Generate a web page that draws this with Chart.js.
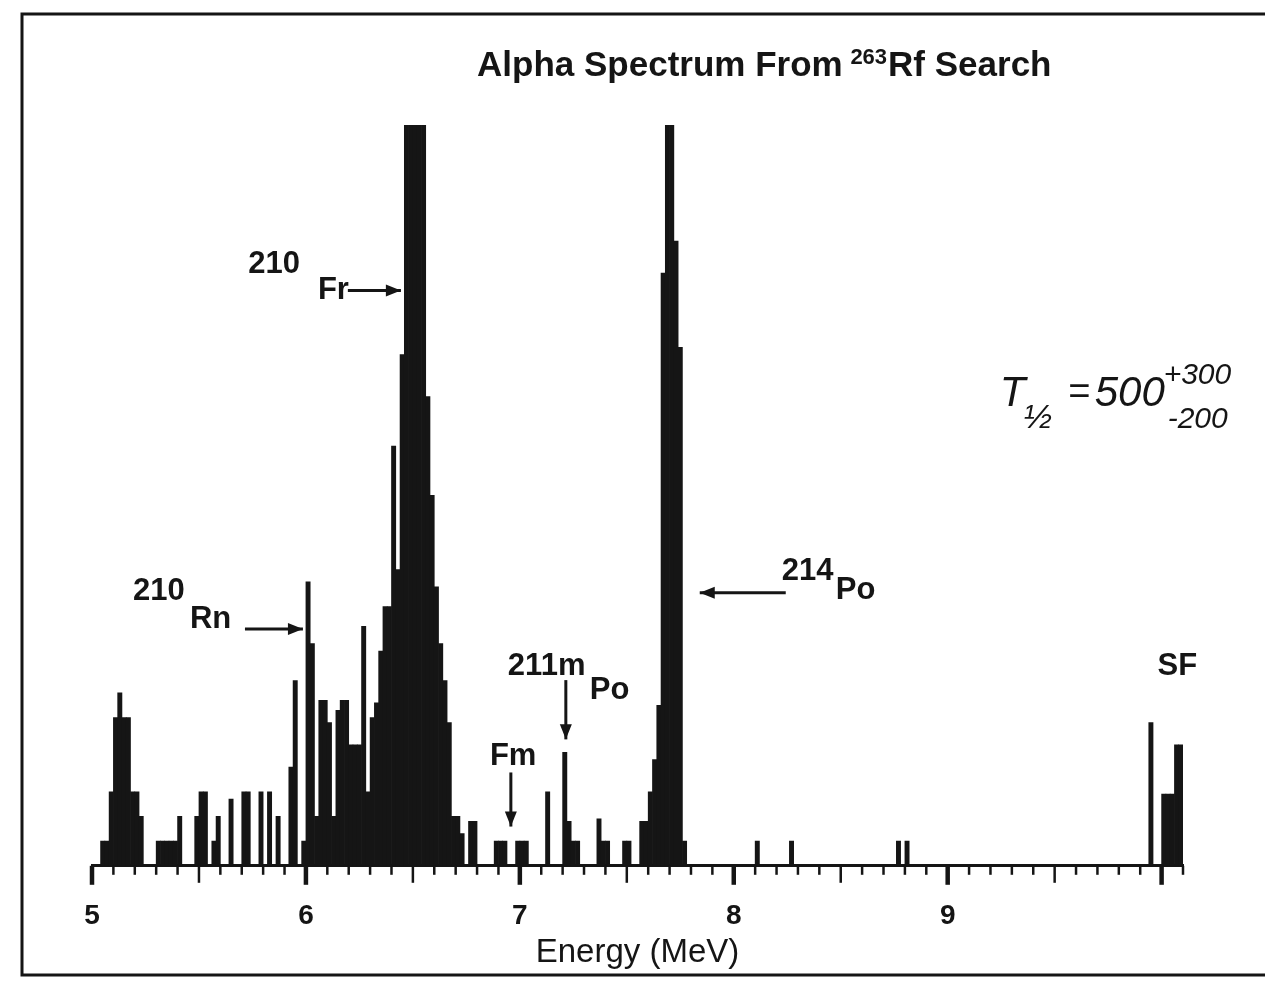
<!DOCTYPE html>
<html>
<head>
<meta charset="utf-8">
<title>Alpha Spectrum From 263Rf Search</title>
<script src="https://cdn.jsdelivr.net/npm/chart.js@4.4.1/dist/chart.umd.min.js"></script>
<style>
  html, body { margin: 0; padding: 0; background: #fff; }
  #wrap { width: 1265px; height: 990px; }
</style>
</head>
<body>
<div id="wrap"><canvas id="spectrum"></canvas></div>
<script>
// Histogram channels: 0.02 MeV wide, starting at 5.00 MeV
const binStart = 5.0;
const binWidth = 0.02;

// counts per channel, one row = 0.2 MeV
const counts5 = [
    0, 0, 1, 1, 3, 6, 7, 6, 6, 3,
    3, 2, 0, 0, 0, 1, 1, 1, 1, 1,
    2, 0, 0, 0, 2, 3, 3, 0, 1, 2,
    0, 0, 2.7, 0, 0, 3, 3, 0, 0, 3,
    0, 3, 0, 2, 0, 0, 4, 7.5, 0, 1,
];
const counts6 = [
    11.5, 9, 2, 6.7, 6.7, 5.8, 2, 6.3, 6.7, 6.7,
    4.9, 4.9, 4.9, 9.7, 3, 6, 6.6, 8.7, 10.5, 10.5,
    17, 12, 20.7, 30, 30, 30, 30, 30, 19, 15,
    11.3, 9, 7.5, 5.8, 2, 2, 1.3, 0, 1.8, 1.8,
    0, 0, 0, 0, 1, 1, 1, 0, 0, 1,
];
const counts7 = [
    1, 1, 0, 0, 0, 0, 3, 0, 0, 0,
    4.6, 1.8, 1, 1, 0, 0, 0, 0, 1.9, 1,
    1, 0, 0, 0, 1, 1, 0, 0, 1.8, 1.8,
    3, 4.3, 6.5, 24, 30, 30, 25.3, 21, 1, 0,
    0, 0, 0, 0, 0, 0, 0, 0, 0, 0,
];
const counts8 = [
    0, 0, 0, 0, 0, 1, 0, 0, 0, 0,
    0, 0, 0, 1, 0, 0, 0, 0, 0, 0,
    0, 0, 0, 0, 0, 0, 0, 0, 0, 0,
    0, 0, 0, 0, 0, 0, 0, 0, 1, 0,
    1, 0, 0, 0, 0, 0, 0, 0, 0, 0,
];
const counts9 = [
    0, 0, 0, 0, 0, 0, 0, 0, 0, 0,
    0, 0, 0, 0, 0, 0, 0, 0, 0, 0,
    0, 0, 0, 0, 0, 0, 0, 0, 0, 0,
    0, 0, 0, 0, 0, 0, 0, 0, 0, 0,
    0, 0, 0, 0, 0, 0, 0, 5.8, 0, 0,
    2.9, 2.9, 2.9, 4.9, 4.9,
];

const tickLabels = [5, 6, 7, 8, 9];
const energyMin = 5.0;
const energyMax = 10.1;
const countMax = 30;

const titleText = ['Alpha Spectrum From ', '263', 'Rf Search'];
const axisTitle = 'Energy (MeV)';

// peak labels, anchored in energy / counts
const notes = [
    { mass: '210', sym: 'Fr', massAt: [5.73, 24.0], symAt: [6.056, 22.95], arrow: [[6.196, 23.3], [6.444, 23.3]] },
    { mass: '210', sym: 'Rn', massAt: [5.192, 10.77], symAt: [5.458, 9.63], arrow: [[5.715, 9.59], [5.986, 9.59]] },
    { mass: '214', sym: 'Po', massAt: [8.224, 11.59], symAt: [8.477, 10.81], arrow: [[8.243, 11.06], [7.841, 11.06]] },
    { mass: '211m', sym: 'Po', massAt: [6.944, 7.72], symAt: [7.327, 6.75], arrow: [[7.215, 7.52], [7.215, 5.12]] },
    { mass: '', sym: 'Fm', massAt: null, symAt: [6.86, 4.07], arrow: [[6.958, 3.78], [6.958, 1.59]] },
    { mass: '', sym: 'SF', massAt: null, symAt: [9.981, 7.72], arrow: null },
];
const halfLifeAt = [9.243, 18.62];

const allCounts = [...counts5, ...counts6, ...counts7, ...counts8, ...counts9];
const points = allCounts.map((c, i) => ({ x: binStart + (i + 0.5) * binWidth, y: c }));

const ink = '#151515';

// white page + scanned frame
const pageFrame = {
    id: 'pageFrame',
    beforeDraw(chart) {
        const ctx = chart.ctx;
        ctx.save();
        ctx.fillStyle = '#fff';
        ctx.fillRect(0, 0, chart.width, chart.height);
        ctx.strokeStyle = ink;
        ctx.lineWidth = 3;
        ctx.strokeRect(22, 14, chart.width, chart.height - 15 - 14);
        ctx.restore();
    }
};

// tick marks hanging below the axis: long at whole and half MeV
const tickMarks = {
    id: 'tickMarks',
    afterDraw(chart) {
        const xs = chart.scales.x;
        const ctx = chart.ctx;
        ctx.save();
        ctx.strokeStyle = ink;
        xs.ticks.forEach(t => {
            const v = t.value;
            const whole = Math.abs(v - Math.round(v)) < 1e-6;
            const half = Math.abs(v * 2 - Math.round(v * 2)) < 1e-6;
            const len = whole ? 19 : half ? 17 : 9;
            ctx.lineWidth = whole ? 4.5 : 2.5;
            const px = xs.getPixelForValue(v);
            ctx.beginPath();
            ctx.moveTo(px, xs.top);
            ctx.lineTo(px, xs.top + len);
            ctx.stroke();
        });
        ctx.restore();
    }
};

function arrowHead(ctx, x0, y0, x1, y1) {
    const a = Math.atan2(y1 - y0, x1 - x0);
    const l = 15, w = 6;
    ctx.beginPath();
    ctx.moveTo(x1, y1);
    ctx.lineTo(x1 - l * Math.cos(a) + w * Math.sin(a), y1 - l * Math.sin(a) - w * Math.cos(a));
    ctx.lineTo(x1 - l * Math.cos(a) - w * Math.sin(a), y1 - l * Math.sin(a) + w * Math.cos(a));
    ctx.closePath();
    ctx.fill();
}

const annotations = {
    id: 'annotations',
    afterDraw(chart) {
        const xs = chart.scales.x, ys = chart.scales.y;
        const ctx = chart.ctx;
        const px = e => xs.getPixelForValue(e);
        const py = c => ys.getPixelForValue(c);
        ctx.save();
        ctx.fillStyle = ink;
        ctx.strokeStyle = ink;
        ctx.textBaseline = 'alphabetic';
        ctx.textAlign = 'left';

        // title with superscript mass number
        const tx = px(6.8), ty = py(32);
        ctx.font = 'bold 35px "Liberation Sans"';
        ctx.fillText(titleText[0], tx, ty);
        let w = ctx.measureText(titleText[0]).width;
        ctx.font = 'bold 22px "Liberation Sans"';
        ctx.fillText(titleText[1], tx + w - 2, ty - 12);
        w += ctx.measureText(titleText[1]).width - 1;
        ctx.font = 'bold 35px "Liberation Sans"';
        ctx.fillText(titleText[2], tx + w, ty);

        // nuclide labels and arrows
        ctx.font = 'bold 31px "Liberation Sans"';
        notes.forEach(n => {
            if (n.massAt) ctx.fillText(n.mass, px(n.massAt[0]), py(n.massAt[1]));
            ctx.fillText(n.sym, px(n.symAt[0]), py(n.symAt[1]));
            if (n.arrow) {
                const [a, b] = n.arrow;
                const x0 = px(a[0]), y0 = py(a[1]), x1 = px(b[0]), y1 = py(b[1]);
                ctx.lineWidth = 3;
                ctx.beginPath();
                ctx.moveTo(x0, y0);
                ctx.lineTo(x1, y1);
                ctx.stroke();
                arrowHead(ctx, x0, y0, x1, y1);
            }
        });

        // handwritten half-life note
        const hx = px(halfLifeAt[0]), hy = py(halfLifeAt[1]);
        ctx.font = 'italic 42px "Liberation Sans"';
        ctx.fillText('T', hx, hy);
        ctx.font = 'italic 34px "Liberation Sans"';
        ctx.fillText('\u00bd', hx + 24, hy + 22);
        ctx.font = 'italic 38px "Liberation Sans"';
        ctx.fillText('=', hx + 68, hy - 2);
        ctx.font = 'italic 42px "Liberation Sans"';
        ctx.fillText('500', hx + 95, hy);
        ctx.font = 'italic 30px "Liberation Sans"';
        ctx.fillText('+300', hx + 164, hy - 22);
        ctx.fillText('-200', hx + 168, hy + 22);
        ctx.restore();
    }
};

const chart = new Chart(document.getElementById('spectrum'), {
    type: 'bar',
    data: {
        datasets: [{
            label: 'Counts',
            data: points,
            backgroundColor: ink,
            borderWidth: 0,
            barPercentage: 1,
            categoryPercentage: 1,
        }],
    },
    options: {
        responsive: true,
        maintainAspectRatio: false,
        animation: false,
        layout: { padding: { left: 92, right: 82, top: 125, bottom: 8 } },
        plugins: {
            legend: { display: false },
            tooltip: { enabled: false },
        },
        scales: {
            x: {
                type: 'linear',
                min: energyMin,
                max: energyMax,
                offset: false,
                grid: { display: false, drawTicks: true, tickLength: 18 },
                border: { display: true, color: ink, width: 3 },
                ticks: {
                    stepSize: 0.1,
                    autoSkip: false,
                    maxRotation: 0,
                    padding: 16,
                    color: ink,
                    font: { family: 'Liberation Sans', size: 28, weight: 'bold' },
                    callback: v => {
                        const r = Math.round(v);
                        return (Math.abs(v - r) < 1e-6 && tickLabels.includes(r)) ? String(r) : '';
                    },
                },
                title: {
                    display: true,
                    text: axisTitle,
                    color: ink,
                    font: { family: 'Liberation Sans', size: 33 },
                    padding: { top: -16, bottom: 9 },
                },
            },
            y: { display: false, min: 0, max: countMax },
        },
    },
    plugins: [pageFrame, tickMarks, annotations],
});
</script>
</body>
</html>
